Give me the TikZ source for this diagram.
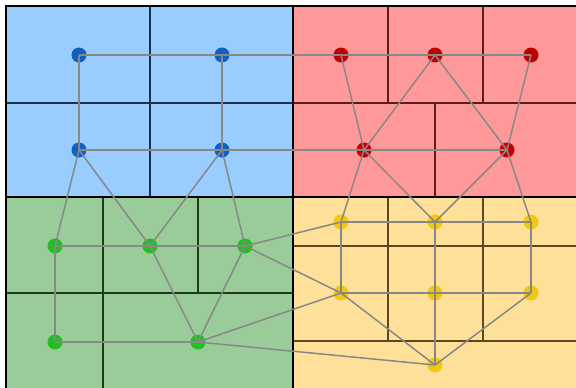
\documentclass[tikz,border=0pt]{standalone}
\usepackage{xcolor}
\usepackage{tikz}

\definecolor{bluefill}{HTML}{99CCFF}
\definecolor{redfill}{HTML}{FF9999}
\definecolor{greenfill}{HTML}{99CC99}
\definecolor{yellowfill}{HTML}{FFE099}
\definecolor{blueline}{HTML}{1E3048}
\definecolor{redline}{HTML}{5A1C1C}
\definecolor{greenline}{HTML}{1C3A1C}
\definecolor{yellowline}{HTML}{5E4620}
\definecolor{bluedot}{HTML}{1060C0}
\definecolor{reddot}{HTML}{C00000}
\definecolor{greendot}{HTML}{20C020}
\definecolor{yellowdot}{HTML}{F2C80F}
\definecolor{linkgray}{HTML}{888888}

\tikzset{
  dot/.style={circle, minimum size=15pt, inner sep=0pt},
  cell/.style={line width=1.4pt},
  link/.style={draw=linkgray, line width=1.5pt}
}

\begin{document}
\begin{tikzpicture}[x=1pt, y=-1pt]
    \useasboundingbox (0,0) rectangle (576,388);

    % quadrants
    \fill[bluefill] (6,6) rectangle (293,197);
    \fill[redfill] (293,6) rectangle (576,197);
    \fill[greenfill] (6,197) rectangle (293,388);
    \fill[yellowfill] (293,197) rectangle (576,388);

    % cells
    \draw[cell, blueline] (150,6) -- (150,197) (6,103) -- (293,103);
    \draw[cell, redline] (293,103) -- (576,103) (388,6) -- (388,103) (483,6) -- (483,103) (435,103) -- (435,197);
    \draw[cell, greenline] (103,197) -- (103,388) (198,197) -- (198,293) (6,293) -- (293,293);
    \draw[cell, yellowline] (293,246) -- (576,246) (293,341) -- (576,341) (388,197) -- (388,341) (483,197) -- (483,341);

    % borders
    \draw[line width=2pt] (6,388) -- (6,6) -- (576,6);
    \draw[line width=2pt] (293,6) -- (293,388) (6,197) -- (576,197);

    % nodes
    \node[dot, fill=bluedot] (b1) at (79,55) {};
    \node[dot, fill=bluedot] (b2) at (222,55) {};
    \node[dot, fill=bluedot] (b3) at (79,150) {};
    \node[dot, fill=bluedot] (b4) at (222,150) {};

    \node[dot, fill=reddot] (r1) at (341,55) {};
    \node[dot, fill=reddot] (r2) at (435,55) {};
    \node[dot, fill=reddot] (r3) at (531,55) {};
    \node[dot, fill=reddot] (r4) at (364,150) {};
    \node[dot, fill=reddot] (r5) at (507,150) {};

    \node[dot, fill=greendot] (g1) at (55,246) {};
    \node[dot, fill=greendot] (g2) at (150,246) {};
    \node[dot, fill=greendot] (g3) at (245,246) {};
    \node[dot, fill=greendot] (g4) at (55,342) {};
    \node[dot, fill=greendot] (g5) at (198,342) {};

    \node[dot, fill=yellowdot] (y1) at (341,222) {};
    \node[dot, fill=yellowdot] (y2) at (435,222) {};
    \node[dot, fill=yellowdot] (y3) at (531,222) {};
    \node[dot, fill=yellowdot] (y4) at (341,293) {};
    \node[dot, fill=yellowdot] (y5) at (435,293) {};
    \node[dot, fill=yellowdot] (y6) at (531,293) {};
    \node[dot, fill=yellowdot] (y7) at (435,365) {};

    \path[link]
    (b1.center) edge (b2.center)
    (b2.center) edge (r1.center)
    (r1.center) edge (r2.center)
    (r2.center) edge (r3.center)
    (b1.center) edge (b3.center)
    (b2.center) edge (b4.center)
    (b3.center) edge (b4.center)
    (b4.center) edge (r4.center)
    (r4.center) edge (r5.center)
    (r1.center) edge (r4.center)
    (r2.center) edge (r4.center)
    (r2.center) edge (r5.center)
    (r3.center) edge (r5.center)
    (b3.center) edge (g1.center)
    (b3.center) edge (g2.center)
    (b4.center) edge (g2.center)
    (b4.center) edge (g3.center)
    (g1.center) edge (g2.center)
    (g2.center) edge (g3.center)
    (g1.center) edge (g4.center)
    (g4.center) edge (g5.center)
    (g2.center) edge (g5.center)
    (g3.center) edge (g5.center)
    (g3.center) edge (y1.center)
    (g3.center) edge (y4.center)
    (g5.center) edge (y4.center)
    (g5.center) edge (y7.center)
    (r4.center) edge (y1.center)
    (r4.center) edge (y2.center)
    (r5.center) edge (y2.center)
    (r5.center) edge (y3.center)
    (y1.center) edge (y2.center)
    (y2.center) edge (y3.center)
    (y1.center) edge (y4.center)
    (y2.center) edge (y5.center)
    (y3.center) edge (y6.center)
    (y4.center) edge (y5.center)
    (y5.center) edge (y6.center)
    (y5.center) edge (y7.center)
    (y4.center) edge (y7.center)
    (y6.center) edge (y7.center);

\end{tikzpicture}
\end{document}
